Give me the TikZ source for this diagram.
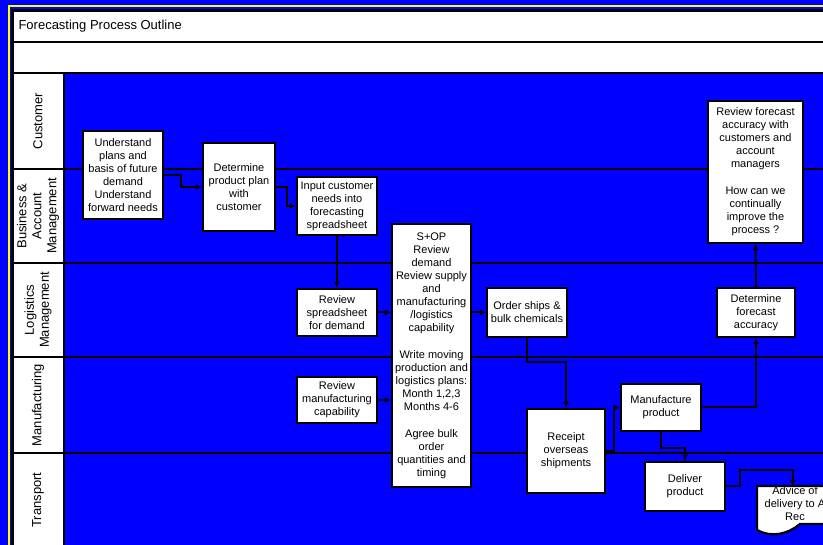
\documentclass[tikz,border=0pt]{standalone}
\usepackage{fontspec}
\setmainfont{Liberation Sans}
\usepackage{tikz}
\usetikzlibrary{arrows.meta,positioning,calc}
\definecolor{lanebg}{RGB}{0,0,255}
\definecolor{rim}{RGB}{255,255,0}

\begin{document}
\begin{tikzpicture}[
			x = 1pt, y = -1pt,
			every node/.style = {font=\fontsize{11}{13}\selectfont, align=center},
			box/.style = {draw, fill=white, line width=2.2pt, inner sep=1pt},
			arr/.style = {line width=2pt, -{Latex[length=6pt,width=6pt]}},
			lane/.style = {line width=2.4pt},
			lanelabel/.style = {rotate=90, font=\fontsize{13}{15}\selectfont},
		]
		\useasboundingbox (0,0) rectangle (823,545);
		\clip (0,0) rectangle (823,545);

		% frame and swimlanes
		\fill[lanebg] (0,0) rectangle (823,545);
		\draw[rim,line width=2pt] (8.5,545) -- (8.5,6) -- (823,6);
		\fill[white] (13,11) rectangle (823,73);
		\fill[white] (13,73) rectangle (64,545);
		\draw[lane] (12.5,545) -- (12.5,10.5) -- (823,10.5);
		\draw[lane] (13,42) -- (823,42);
		\foreach \y in {73,169,263,357,453}
			\draw[lane] (13,\y) -- (823,\y);
		\draw[lane] (64,73) -- (64,545);

		\node[anchor=west,font=\fontsize{13}{15}\selectfont] (title) at (15,26) {Forecasting Process Outline};

		\node[lanelabel] (lcust) at (38,121) {Customer};
		\node[lanelabel] (lbus) at (38,216) {Business \&\\Account\\Management};
		\node[lanelabel] (llog) at (38,310) {Logistics\\Management};
		\node[lanelabel] (lmfg) at (38,405) {Manufacturing};
		\node[lanelabel] (ltrans) at (38,500) {Transport};

		% process steps
		\node[box,minimum width=80,minimum height=88] (underst) at (123,175) {Understand\\plans and\\basis of future\\demand\\Understand\\forward needs};
		\node[box,minimum width=72,minimum height=88] (detplan) at (239,187) {Determine\\product plan\\with\\customer};
		\node[box,minimum width=80,minimum height=58] (input) at (337,206) {Input customer\\needs into\\forecasting\\spreadsheet};
		\node[box,minimum width=80,minimum height=47] (revss) at (337,312.5) {Review\\spreadsheet\\for demand};
		\node[box,minimum width=80,minimum height=46] (revmfg) at (337,400) {Review\\manufacturing\\capability};
		\node[box,minimum width=79,minimum height=263] (sop) at (431.5,355.5) {S+OP\\Review\\demand\\Review supply\\and\\manufacturing\\/logistics\\capability\\[14pt]Write moving\\production and\\logistics plans:\\Month 1,2,3\\Months 4-6\\[14pt]Agree bulk\\order\\quantities and\\timing};
		\node[box,minimum width=80,minimum height=49] (order) at (527,312.5) {Order ships \&\\bulk chemicals};
		\node[box,minimum width=78,minimum height=84] (receipt) at (566,451) {Receipt\\overseas\\shipments};
		\node[box,minimum width=80,minimum height=47] (manuf) at (661,407.5) {Manufacture\\product};
		\node[box,minimum width=80,minimum height=49] (deliver) at (685,486.5) {Deliver\\product};
		\node[box,minimum width=78,minimum height=49] (detacc) at (756,312.5) {Determine\\forecast\\accuracy};
		\node[box,minimum width=95,minimum height=142] (revfc) at (755.5,172) {Review forecast\\accuracy with\\customers and\\account\\managers\\[14pt]How can we\\continually\\improve the\\process ?};

		% document shape
		\draw[box] (757,486) -- (757,530) .. controls (772,538) and (788,534) .. (800,524) -- (830,524) -- (830,486) -- cycle;
		\node (advice) at (795,504) {Advice of\\delivery to A\\Rec};
		\coordinate (advtop) at (793,486);

		% connectors
		\draw[arr] (underst.east) -- ++(17,0) |- (detplan.west);
		\draw[arr] (detplan.east) -- ++(11,0) |- (input.west);
		\draw[arr] (input.south) -- (revss.north);
		\draw[arr] (revss.east) -- (revss.east -| sop.west);
		\draw[arr] (revmfg.east) -- (revmfg.east -| sop.west);
		\draw[arr] (order.west -| sop.east) -- (order.west);
		\draw[arr] (order.south) -- ++(0,24) -| (receipt.north);
		\draw[arr] (receipt.east) -- ++(8,0) |- (manuf.west);
		\draw[arr] (manuf.east) -| (detacc.south);
		\draw[arr] (detacc.north) -- (revfc.south);
		\draw[arr] (manuf.south) -- ++(0,16) -| (deliver.north);
		\draw[arr] (deliver.east) -- ++(14,0) -- ++(0,-16) -| (advtop);

		\end{tikzpicture}
\end{document}
